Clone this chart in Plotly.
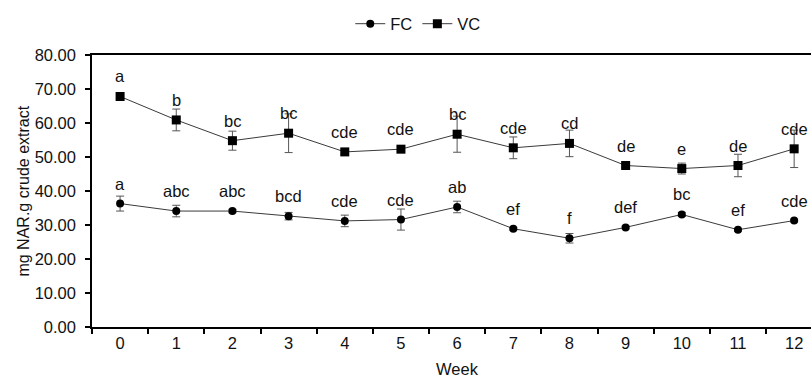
import plotly.graph_objects as go

weeks = [str(i) for i in range(13)]
fc_values = [36.3, 34.1, 34.1, 32.6, 31.2, 31.6, 35.3, 28.9, 26.1, 29.3, 33.1, 28.6, 31.3]
fc_err = [2.2, 1.7, 0.5, 1.1, 1.7, 3.1, 1.7, 0.4, 1.4, 0.4, 0.6, 0.4, 0.4]
fc_labels = ["a", "abc", "abc", "bcd", "cde", "cde", "ab", "ef", "f", "def", "bc", "ef", "cde"]
vc_values = [67.8, 60.9, 54.8, 57.0, 51.5, 52.3, 56.7, 52.7, 54.0, 47.5, 46.6, 47.5, 52.4]
vc_err = [0.8, 3.2, 2.8, 5.7, 0.6, 0.8, 5.3, 3.2, 3.9, 0.5, 1.6, 3.3, 5.5]
vc_labels = ["a", "b", "bc", "bc", "cde", "cde", "bc", "cde", "cd", "de", "e", "de", "cde"]

FONT = "Liberation Sans, Arial, sans-serif"
FS = 16.5
W, H = 811, 377
ML, MR, MT, MB = 91.5, 0, 55, 50.3

fig = go.Figure()
fig.add_trace(go.Scatter(
    x=weeks, y=fc_values, name="FC", mode="lines+markers",
    line=dict(color="#3a3a3a", width=1),
    marker=dict(symbol="circle", size=8, color="black"),
    error_y=dict(type="data", array=fc_err, visible=True, color="#555555", thickness=1, width=4),
))
fig.add_trace(go.Scatter(
    x=weeks, y=vc_values, name="VC", mode="lines+markers",
    line=dict(color="#3a3a3a", width=1),
    marker=dict(symbol="square", size=9, color="black"),
    error_y=dict(type="data", array=vc_err, visible=True, color="#555555", thickness=1, width=4),
))

annotations = []
for w, v, t in zip(weeks, fc_values, fc_labels):
    annotations.append(dict(x=w, y=v, text=t, showarrow=False, yshift=20,
                            font=dict(family=FONT, size=FS, color="#111")))
for w, v, t in zip(weeks, vc_values, vc_labels):
    annotations.append(dict(x=w, y=v, text=t, showarrow=False, yshift=20,
                            font=dict(family=FONT, size=FS, color="#111")))

plot_w = W - ML - MR
plot_h = H - MT - MB
bottom_px = H - MB
annotations.append(dict(x="6", y=-(369 - bottom_px) / plot_h, xref="x", yref="paper",
                        text="Week", showarrow=False, xanchor="center", yanchor="middle",
                        font=dict(family=FONT, size=FS, color="#111")))
annotations.append(dict(x=(22 - ML) / plot_w, y=0.5, xref="paper", yref="paper",
                        text="mg NAR.g crude extract", textangle=-90, showarrow=False,
                        xanchor="center", yanchor="middle",
                        font=dict(family=FONT, size=FS - 0.5, color="#111")))

fig.update_layout(
    width=W, height=H,
    margin=dict(l=ML, r=MR, t=MT, b=MB, pad=0),
    paper_bgcolor="white", plot_bgcolor="white",
    font=dict(family=FONT, size=FS, color="#111"),
    showlegend=True,
    legend=dict(orientation="h", x=(418 - ML) / plot_w, xanchor="center",
                y=(bottom_px - 24) / plot_h, yanchor="middle",
                font=dict(family=FONT, size=FS, color="#111"),
                itemwidth=30, tracegroupgap=0, bgcolor="rgba(0,0,0,0)"),
    annotations=annotations,
)
fig.update_xaxes(
    type="category", range=[-0.5, 12.3], tickson="boundaries",
    showline=True, linecolor="black", linewidth=1.5, mirror=True,
    ticks="outside", ticklen=5, tickcolor="black", tickwidth=1.5,
    showgrid=False, zeroline=False,
    tickfont=dict(family=FONT, size=FS, color="#111"),
)
fig.update_yaxes(
    range=[0, 80], dtick=10, tickformat=".2f",
    showline=True, linecolor="black", linewidth=1.5,
    ticks="outside", ticklen=5, tickcolor="black", tickwidth=1.5,
    ticklabelstandoff=6,
    showgrid=False, zeroline=False,
    tickfont=dict(family=FONT, size=FS, color="#111"),
)
fig.write_html(
    "out.html",
    config={"displayModeBar": False},
    post_script="document.body.style.margin='0';document.body.style.overflow='hidden';",
)
